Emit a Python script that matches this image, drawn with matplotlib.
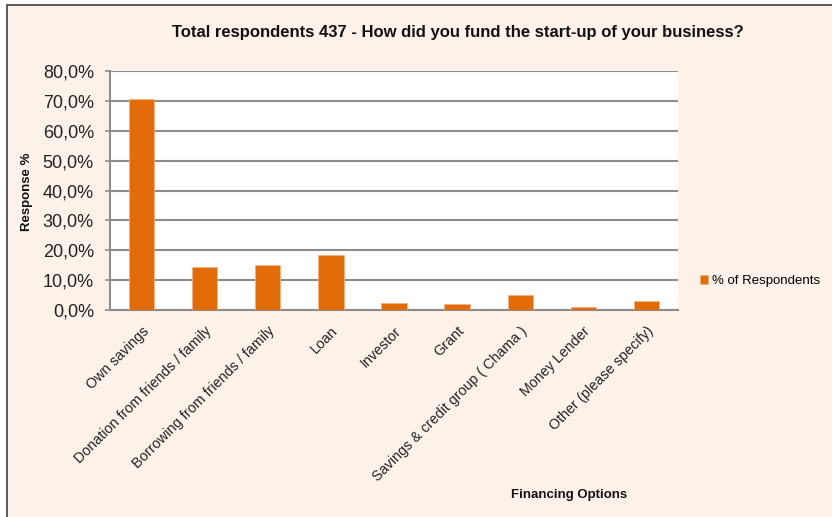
import matplotlib
matplotlib.use("Agg")
import matplotlib.pyplot as plt
from matplotlib.patches import Rectangle
from matplotlib.ticker import FuncFormatter

categories = [
    "Own savings",
    "Donation from friends / family",
    "Borrowing from friends / family",
    "Loan",
    "Investor",
    "Grant",
    "Savings & credit group ( Chama )",
    "Money Lender",
    "Other (please specify)",
]
respondents_pct = [70.7, 14.4, 15.1, 18.5, 2.3, 2.1, 5.0, 0.9, 3.0]
series_name = "% of Respondents"
title = "Total respondents 437 - How did you fund the start-up of your business?"
y_ticks = [0, 10, 20, 30, 40, 50, 60, 70, 80]

W, H = 832, 517
BAR = "#E36C0A"
BG = "#FDF2E9"
GRID = "#8C8C8C"
bold_font = ["Liberation Sans Narrow", "Liberation Sans", "DejaVu Sans"]
regular = ["Liberation Sans", "DejaVu Sans"]

fig = plt.figure(figsize=(W / 100, H / 100), dpi=100, facecolor="white")

# chart area panel with dark border on top/left
panel = Rectangle((7 / W, -0.05), 1.2, 1 - 5 / H + 0.05, transform=fig.transFigure,
                  facecolor=BG, edgecolor="#404040", linewidth=1.2, zorder=-10)
fig.patches.append(panel)

ax = fig.add_axes([110 / W, (H - 310) / H, (678 - 110) / W, (310 - 71) / H])
ax.set_zorder(1)
ax.set_facecolor("white")
x = range(len(categories))
ax.bar(x, respondents_pct, width=0.4, color=BAR, edgecolor="#F4B183",
       linewidth=0.6, zorder=3, label=series_name)

ax.set_ylim(0, 80)
ax.set_xlim(-0.5, len(categories) - 0.5)
ax.set_yticks(y_ticks)
ax.yaxis.set_major_formatter(FuncFormatter(lambda v, p: f"{v:.1f}%".replace(".", ",")))
ax.grid(axis="y", color=GRID, linewidth=1.5, zorder=1)
ax.set_axisbelow(True)

for s in ["top", "right"]:
    ax.spines[s].set_visible(False)
for s in ["left", "bottom"]:
    ax.spines[s].set_color(GRID)
    ax.spines[s].set_linewidth(1.5)

ax.tick_params(axis="y", length=3.6, width=1.2, color=GRID, pad=8, labelsize=13)
ax.tick_params(axis="x", length=0, pad=10)
for t in ax.get_yticklabels():
    t.set_family(regular)
    t.set_color("#222222")

ax.set_xticks(list(x))
ax.set_xticklabels(categories, rotation=45, ha="right", rotation_mode="anchor",
                   fontsize=10.3, family=regular, color="#222222")

fig.text(458 / W, 1 - 33 / H, title, ha="center", va="center", fontsize=12,
         fontweight="bold", family=bold_font, color="#111111")
fig.text(27 / W, 1 - 192 / H, "Response %", ha="center", va="center", rotation=90,
         fontsize=9.5, fontweight="bold", family=bold_font, color="#111111")
fig.text(569 / W, 1 - 495 / H, "Financing Options", ha="center", va="center",
         fontsize=9.5, fontweight="bold", family=bold_font, color="#111111")

fig.legend(loc="center left", bbox_to_anchor=(688 / W, 1 - 281 / H),
           frameon=False, handlelength=0.6, handleheight=0.6, handletextpad=0.3,
           prop={"family": regular, "size": 9.5})

fig.savefig("out.png", dpi=100, facecolor="white")
